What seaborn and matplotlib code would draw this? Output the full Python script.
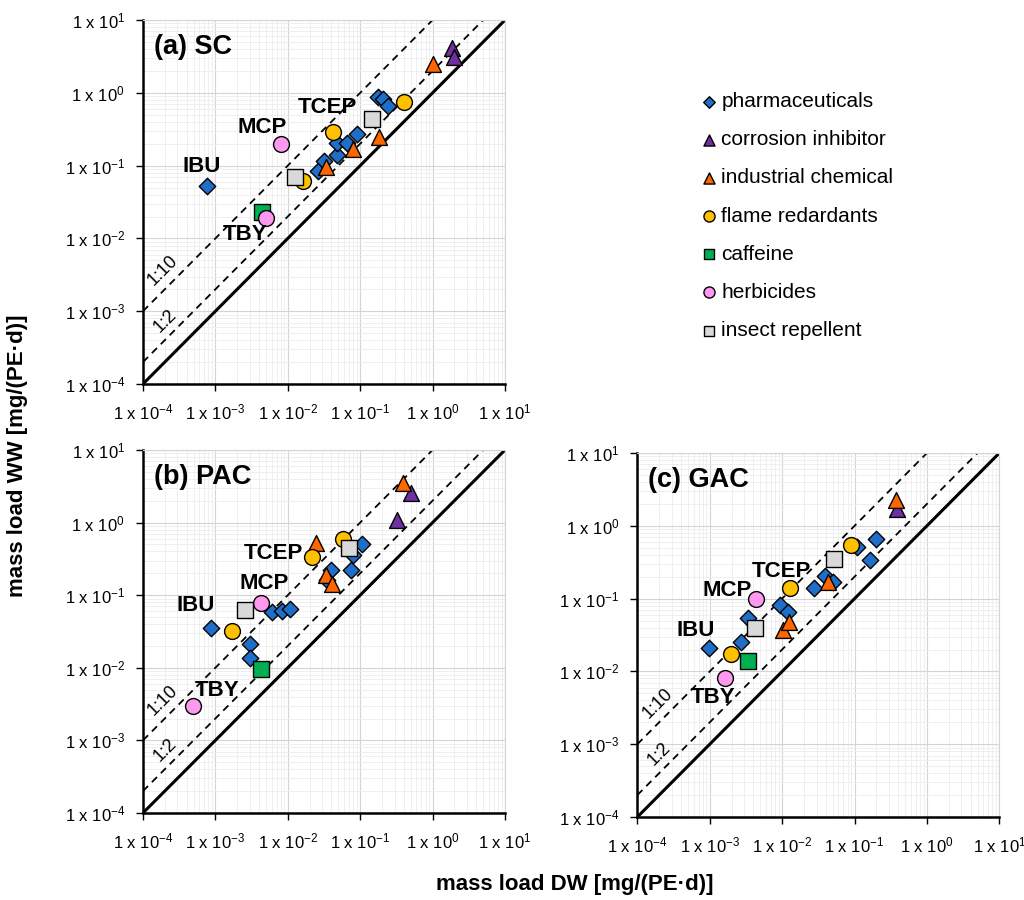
import matplotlib
matplotlib.use("Agg")
import matplotlib.pyplot as plt
import matplotlib.ticker as mticker
import numpy as np
import seaborn as sns

# %%
# data (mass load DW -> x, WW -> y)

categories = ["pharmaceuticals", "corrosion inhibitor", "industrial chemical",
              "flame redardants", "caffeine", "herbicides", "insect repellent"]
colors = ["#1F6FC8", "#7030A0", "#FF6600", "#FFC000", "#00B050", "#FF99F0", "#D9D9D9"]
markers = ["D", "^", "^", "o", "s", "o", "s"]
sizes = [70, 130, 130, 130, 120, 130, 120]

# (a) SC
sc_pharma_x = [7.6e-4, 0.0265, 0.0317, 0.0474, 0.0484, 0.065, 0.0895, 0.178, 0.209, 0.244]
sc_pharma_y = [0.053, 0.0835, 0.117, 0.142, 0.205, 0.205, 0.274, 0.89, 0.82, 0.66]
sc_corr_x = [1.83, 1.99]
sc_corr_y = [4.1, 3.15]
sc_ind_x = [0.0334, 0.080, 0.184, 1.0]
sc_ind_y = [0.095, 0.171, 0.25, 2.5]
sc_flame_x = [0.0164, 0.042, 0.40]
sc_flame_y = [0.062, 0.29, 0.74]
sc_caff_x = [4.4e-3]
sc_caff_y = [0.023]
sc_herb_x = [8.0e-3, 5.0e-3]
sc_herb_y = [0.2, 0.019]
sc_insect_x = [0.0126, 0.144]
sc_insect_y = [0.070, 0.44]

# (b) PAC
pac_pharma_x = [8.7e-4, 6.1e-3, 8.4e-3, 0.0106, 3.0e-3, 3.0e-3, 0.107, 0.080, 0.0755, 0.040, 0.035]
pac_pharma_y = [0.035, 0.058, 0.060, 0.064, 0.0214, 0.0136, 0.50, 0.36, 0.22, 0.22, 0.163]
pac_corr_x = [0.51, 0.32]
pac_corr_y = [2.53, 1.09]
pac_ind_x = [0.0243, 0.0334, 0.041, 0.39]
pac_ind_y = [0.52, 0.19, 0.143, 3.55]
pac_flame_x = [1.7e-3, 0.0218, 0.0586]
pac_flame_y = [0.032, 0.34, 0.60]
pac_caff_x = [4.3e-3]
pac_caff_y = [9.6e-3]
pac_herb_x = [4.3e-3, 4.9e-4]
pac_herb_y = [0.078, 3.0e-3]
pac_insect_x = [2.6e-3, 0.070]
pac_insect_y = [0.063, 0.44]

# (c) GAC
gac_pharma_x = [9.8e-4, 2.7e-3, 3.4e-3, 9.4e-3, 0.0122, 0.0279, 0.039, 0.051, 0.107, 0.198, 0.161]
gac_pharma_y = [0.0212, 0.0254, 0.0547, 0.081, 0.065, 0.141, 0.202, 0.169, 0.52, 0.65, 0.343]
gac_corr_x = [0.39]
gac_corr_y = [1.72]
gac_ind_x = [0.0104, 0.0126, 0.0435, 0.374]
gac_ind_y = [0.0367, 0.0478, 0.169, 2.28]
gac_flame_x = [1.95e-3, 0.0129, 0.0885]
gac_flame_y = [0.0175, 0.141, 0.55]
gac_caff_x = [3.4e-3]
gac_caff_y = [0.0139]
gac_herb_x = [4.4e-3, 1.63e-3]
gac_herb_y = [0.099, 8.2e-3]
gac_insect_x = [4.2e-3, 0.052]
gac_insect_y = [0.040, 0.346]

compound_names = ["IBU", "MCP", "TCEP", "TBY"]
sc_label_x = [6.5e-4, 4.4e-3, 0.035, 2.6e-3]
sc_label_y = [0.098, 0.335, 0.62, 0.0114]
pac_label_x = [5.3e-4, 4.8e-3, 6.4e-3, 1.07e-3]
pac_label_y = [0.073, 0.146, 0.37, 4.9e-3]
gac_label_x = [6.3e-4, 1.77e-3, 9.9e-3, 1.1e-3]
gac_label_y = [0.037, 0.13, 0.237, 4.4e-3]

panels = [
    ("(a) SC", [0.1396, 0.5733, 0.3535, 0.4044],
     [(sc_pharma_x, sc_pharma_y), (sc_corr_x, sc_corr_y), (sc_ind_x, sc_ind_y),
      (sc_flame_x, sc_flame_y), (sc_caff_x, sc_caff_y), (sc_herb_x, sc_herb_y),
      (sc_insect_x, sc_insect_y)], sc_label_x, sc_label_y),
    ("(b) PAC", [0.1396, 0.0967, 0.3535, 0.4033],
     [(pac_pharma_x, pac_pharma_y), (pac_corr_x, pac_corr_y), (pac_ind_x, pac_ind_y),
      (pac_flame_x, pac_flame_y), (pac_caff_x, pac_caff_y), (pac_herb_x, pac_herb_y),
      (pac_insect_x, pac_insect_y)], pac_label_x, pac_label_y),
    ("(c) GAC", [0.6224, 0.0922, 0.3535, 0.4044],
     [(gac_pharma_x, gac_pharma_y), (gac_corr_x, gac_corr_y), (gac_ind_x, gac_ind_y),
      (gac_flame_x, gac_flame_y), (gac_caff_x, gac_caff_y), (gac_herb_x, gac_herb_y),
      (gac_insect_x, gac_insect_y)], gac_label_x, gac_label_y),
]

# %%
sns.set_theme(style="white")
plt.rcParams["font.family"] = ["Liberation Sans", "DejaVu Sans"]
plt.rcParams["mathtext.fontset"] = "custom"
plt.rcParams["mathtext.rm"] = "Liberation Sans"
plt.rcParams["mathtext.it"] = "Liberation Sans"
plt.rcParams["text.color"] = "black"
plt.rcParams["xtick.color"] = "black"
plt.rcParams["ytick.color"] = "black"
plt.rcParams["axes.labelcolor"] = "black"

fig = plt.figure(figsize=(10.24, 9.0), dpi=100)

line_x = np.array([1e-4, 1e1])


def fmt(v, pos):
    return r"1 x 10$^{%d}$" % int(round(np.log10(v)))


for title, rect, groups, lab_x, lab_y in panels:
    ax = fig.add_axes(rect)
    ax.set_xscale("log")
    ax.set_yscale("log")
    ax.set_xlim(1e-4, 1e1)
    ax.set_ylim(1e-4, 1e1)

    ax.grid(True, which="major", color="#D4D4D4", lw=0.8)
    ax.grid(True, which="minor", color="#EDEDED", lw=0.6)
    ax.set_axisbelow(True)

    # 1:1, 1:2, 1:10 lines
    ax.plot(line_x, line_x, color="black", lw=2.2, zorder=2)
    ax.plot(line_x, 2 * line_x, color="black", lw=1.3, ls=(0, (4, 3)), zorder=2)
    ax.plot(line_x, 10 * line_x, color="black", lw=1.3, ls=(0, (4, 3)), zorder=2)
    ax.text(1.9e-4, 3.6e-3, "1:10", rotation=45, fontsize=13, ha="center", va="center")
    ax.text(2.0e-4, 7.4e-4, "1:2", rotation=45, fontsize=13, ha="center", va="center")

    for (gx, gy), cat, c, m, s in zip(groups, categories, colors, markers, sizes):
        sns.scatterplot(x=gx, y=gy, ax=ax, marker=m, color=c, s=s,
                        edgecolor="black", linewidth=1.0, zorder=3, label=cat)

    for name, tx, ty in zip(compound_names, lab_x, lab_y):
        ax.text(tx, ty, name, fontsize=16, fontweight="bold", ha="center", va="center", zorder=4)

    ax.text(1.4e-4, 4.3, title, fontsize=19.5, fontweight="bold", ha="left", va="center")

    ax.xaxis.set_major_locator(mticker.LogLocator(base=10, numticks=10))
    ax.yaxis.set_major_locator(mticker.LogLocator(base=10, numticks=10))
    ax.xaxis.set_minor_locator(mticker.LogLocator(base=10, subs=np.arange(2, 10), numticks=20))
    ax.yaxis.set_minor_locator(mticker.LogLocator(base=10, subs=np.arange(2, 10), numticks=20))
    ax.xaxis.set_major_formatter(mticker.FuncFormatter(fmt))
    ax.yaxis.set_major_formatter(mticker.FuncFormatter(fmt))
    ax.xaxis.set_minor_formatter(mticker.NullFormatter())
    ax.yaxis.set_minor_formatter(mticker.NullFormatter())
    ax.tick_params(axis="both", which="major", direction="out", length=5, width=1,
                   labelsize=12, color="black", pad=8, bottom=True, left=True)
    ax.tick_params(axis="both", which="minor", length=0)

    for side in ["left", "bottom"]:
        ax.spines[side].set_color("black")
        ax.spines[side].set_linewidth(1.8)
    for side in ["top", "right"]:
        ax.spines[side].set_color("#D4D4D4")
        ax.spines[side].set_linewidth(0.8)

    ax.set_xlabel("")
    ax.set_ylabel("")

    handles, labels = ax.get_legend_handles_labels()
    ax.get_legend().remove()

fig.legend(handles, labels, loc="upper left", bbox_to_anchor=(0.672, 0.907),
           frameon=False, fontsize=15, handletextpad=0.0, labelspacing=0.92,
           markerscale=0.7, borderaxespad=0, handlelength=1.2)

fig.text(0.017, 0.494, "mass load WW [mg/(PE·d)]", rotation=90, fontsize=16,
         fontweight="bold", ha="center", va="center")
fig.text(0.5615, 0.017, "mass load DW [mg/(PE·d)]", fontsize=16,
         fontweight="bold", ha="center", va="center")

plt.savefig("out.png", dpi=100)
